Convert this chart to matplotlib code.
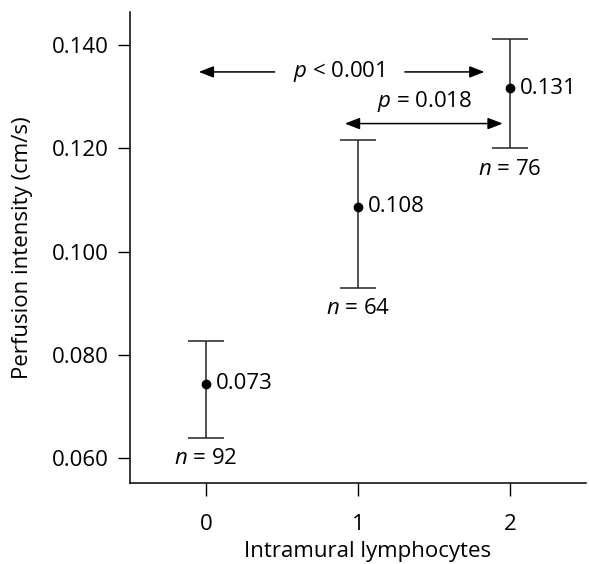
import matplotlib
matplotlib.use('Agg')
import numpy as np
import matplotlib.pyplot as plt

plt.rcParams['font.family'] = ['Open Sans', 'DejaVu Sans']
plt.rcParams['mathtext.fontset'] = 'custom'
plt.rcParams['mathtext.rm'] = 'Open Sans'
plt.rcParams['mathtext.it'] = 'Open Sans:italic'

# data
groups = [0, 1, 2]
means = [0.0744, 0.1087, 0.1316]
upper = [0.0827, 0.1217, 0.1412]
lower = [0.0639, 0.0930, 0.1200]
mean_labels = ['0.073', '0.108', '0.131']
n_counts = [92, 64, 76]
yticks = [0.060, 0.080, 0.100, 0.120, 0.140]

FS = 16

means = np.array(means)
yerr = [means - np.array(lower), np.array(upper) - means]

fig = plt.figure(figsize=(5.89, 5.64), dpi=100)
ax = fig.add_axes([0.2207, 0.1436, 0.7743, 0.8351])

ax.errorbar(groups, means, yerr=yerr, fmt='o', color='black', ecolor='#222222',
            elinewidth=1.1, capsize=13, capthick=1.1, markersize=6)

for g, m, lab in zip(groups, means, mean_labels):
    ax.annotate(lab, (g, m), xytext=(7, 0), textcoords='offset points',
                va='center', ha='left', fontsize=FS)

for g, y, n in zip(groups, lower, n_counts):
    ax.text(g, y - 0.0040, f'$n$ = {n}', ha='center', va='center', fontsize=FS)

# p < 0.001 arrows
arr = dict(arrowstyle='-|>,head_length=0.9,head_width=0.35', color='black', lw=1.1)
ax.annotate('', xy=(-0.066, 0.1348), xytext=(0.47, 0.1348), arrowprops=arr)
ax.annotate('', xy=(1.85, 0.1348), xytext=(1.29, 0.1348), arrowprops=arr)
ax.text(0.87, 0.1348, '$p$ < 0.001', ha='center', va='center', fontsize=FS)

# p = 0.018 double arrow
arr2 = dict(arrowstyle='<|-|>,head_length=0.9,head_width=0.35', color='black', lw=1.1)
ax.annotate('', xy=(1.97, 0.1248), xytext=(0.895, 0.1248), arrowprops=arr2)
ax.text(1.44, 0.1291, '$p$ = 0.018', ha='center', va='center', fontsize=FS)

ax.set_xlim(-0.5, 2.5)
ax.set_ylim(0.0552, 0.1464)
ax.set_xticks(groups)
ax.set_yticks(yticks)
ax.set_yticklabels([f'{v:.3f}' for v in yticks])
ax.tick_params(axis='both', labelsize=FS, length=9, width=1, direction='out', pad=6)
ax.tick_params(axis='x', pad=13)
ax.spines['top'].set_visible(False)
ax.spines['right'].set_visible(False)
for s in ['left', 'bottom']:
    ax.spines[s].set_linewidth(1.1)

ax.set_xlabel('Intramural lymphocytes', fontsize=FS)
ax.xaxis.set_label_coords(0.52, -0.124)
ax.set_ylabel('Perfusion intensity (cm/s)', fontsize=FS, labelpad=14)

fig.savefig('out.png', dpi=100)
